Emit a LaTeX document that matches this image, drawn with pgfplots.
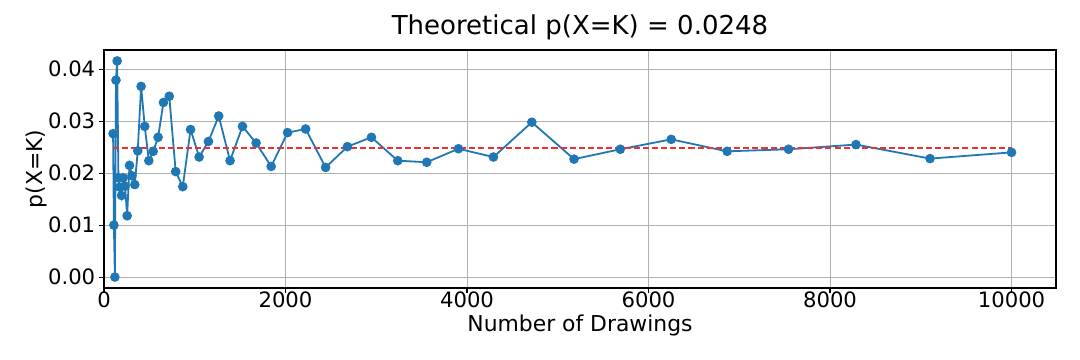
\documentclass[border=0pt]{standalone}
\usepackage{pgfplots}
\pgfplotsset{compat=1.18}
\usepackage{fontspec}
\setmainfont{DejaVu Sans}
\definecolor{mplblue}{HTML}{1F77B4}
\definecolor{gridgray}{HTML}{B0B0B0}
\definecolor{mplred}{HTML}{F03030}
\begin{document}
\begin{tikzpicture}
\useasboundingbox (-1.04in,-0.72in) rectangle (9.76in,2.88in);
\begin{axis}[
  at={(0,0)}, anchor=south west,
  scale only axis,
  width=9.52in, height=2.38in,
  xmin=0, xmax=10490,
  ymin=-0.0021, ymax=0.0437,
  xtick={0,2000,4000,6000,8000,10000},
  ytick={0,0.01,0.02,0.03,0.04},
  scaled y ticks=false, scaled x ticks=false,
  /pgf/number format/assume math mode=true,
  xticklabel style={/pgf/number format/set thousands separator={}, anchor=base, yshift=-0.197in+3.5pt, inner sep=0pt},
  yticklabel style={/pgf/number format/fixed, /pgf/number format/fixed zerofill, /pgf/number format/precision=2, anchor=east, inner sep=0pt, xshift=-0.085in+3.5pt},
  tick label style={font=\fontsize{15.3}{17}\selectfont},
  label style={font=\fontsize{15.8}{18}\selectfont},
  xlabel={Number of Drawings},
  ylabel={p(X=K)},
  xlabel style={at={(axis description cs:0.5,-0.1807)}, anchor=base},
  ylabel style={at={(axis description cs:-0.0651,0.5)}, anchor=base, rotate=0},
  title={Theoretical p(X=K) = 0.0248},
  title style={at={(axis description cs:0.5,1.0282)}, anchor=base, font=\fontsize{18.8}{22}\selectfont},
  grid=major,
  major grid style={gridgray, line width=0.7pt},
  axis line style={black, line width=0.8pt},
  tick style={black, line width=0.8pt},
  tick align=outside,
  major tick length=3.5pt,
  xtick pos=bottom, ytick pos=left,
  clip=false,
]
\addplot[mplblue, line width=1.3pt, mark=*, mark size=2.8pt, mark options={solid, fill=mplblue, draw=mplblue}] coordinates {
(100,0.0276) (109,0.0100) (120,0.0000) (132,0.0379) (145,0.0416)
(159,0.0191) (175,0.0173) (193,0.0157) (212,0.0191) (232,0.0175)
(255,0.0118) (281,0.0215) (308,0.0195) (339,0.0178) (372,0.0243)
(409,0.0367) (449,0.0290) (494,0.0224) (542,0.0242) (596,0.0269)
(655,0.0336) (719,0.0348) (790,0.0203) (868,0.0174) (954,0.0284)
(1048,0.0231) (1151,0.0261) (1264,0.0310) (1389,0.0224) (1526,0.0290)
(1676,0.0258) (1842,0.0213) (2023,0.0278) (2222,0.0285) (2442,0.0211)
(2682,0.0251) (2947,0.0269) (3237,0.0224) (3556,0.0221) (3906,0.0247)
(4291,0.0231) (4714,0.0298) (5179,0.0227) (5689,0.0246) (6250,0.0265)
(6866,0.0242) (7543,0.0246) (8286,0.0255) (9102,0.0228) (10000,0.0240)
};
\addplot[mplred, line width=1.5pt, dash pattern=on 4.4pt off 2.2pt] coordinates {(100,0.0248) (10000,0.0248)};
\end{axis}
\end{tikzpicture}
\end{document}
